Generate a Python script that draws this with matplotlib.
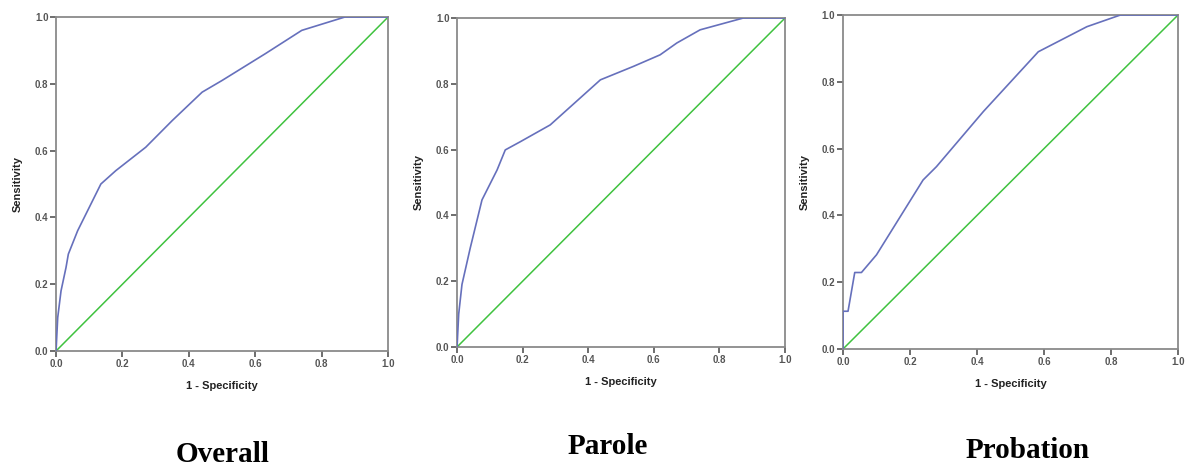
import matplotlib.pyplot as plt

plt.rcParams['font.family'] = ['Liberation Sans', 'DejaVu Sans']

# ROC curve points (1 - specificity, sensitivity) for each group
overall_fpr = [0, 0.005, 0.015, 0.03, 0.037, 0.065, 0.10, 0.135, 0.18, 0.27, 0.35, 0.44, 0.50, 0.63, 0.74, 0.87, 1.0]
overall_tpr = [0, 0.10, 0.18, 0.25, 0.29, 0.36, 0.43, 0.50, 0.54, 0.61, 0.69, 0.775, 0.81, 0.89, 0.96, 1.0, 1.0]

parole_fpr = [0, 0.005, 0.015, 0.04, 0.076, 0.122, 0.147, 0.193, 0.284, 0.437, 0.538, 0.619, 0.67, 0.741, 0.873, 1.0]
parole_tpr = [0, 0.10, 0.19, 0.30, 0.447, 0.538, 0.599, 0.624, 0.675, 0.812, 0.853, 0.888, 0.924, 0.964, 1.0, 1.0]

probation_fpr = [0, 0, 0.015, 0.035, 0.055, 0.10, 0.239, 0.279, 0.419, 0.583, 0.728, 0.828, 1.0]
probation_tpr = [0, 0.113, 0.113, 0.229, 0.229, 0.282, 0.506, 0.546, 0.711, 0.89, 0.965, 1.0, 1.0]

titles = ['Overall', 'Parole', 'Probation']
ref_line = [0, 1]
ticks = [0.0, 0.2, 0.4, 0.6, 0.8, 1.0]

curves = [(overall_fpr, overall_tpr), (parole_fpr, parole_tpr), (probation_fpr, probation_tpr)]

# axes boxes in figure fractions
boxes = [
    [0.0473, 0.2468, 0.2802, 0.7167],
    [0.3857, 0.2554, 0.2768, 0.7060],
    [0.7114, 0.2511, 0.2827, 0.7167],
]
title_pos = [(0.188, 0.008), (0.513, 0.026), (0.867, 0.017)]

fig = plt.figure(figsize=(11.85, 4.66), dpi=100)

for (fpr, tpr), box, title, tp in zip(curves, boxes, titles, title_pos):
    ax = fig.add_axes(box)
    ax.plot(ref_line, ref_line, color='#3fc23f', linewidth=1.1, zorder=2)
    ax.plot(fpr, tpr, color='#6670bc', linewidth=1.2, zorder=3)
    ax.set_xlim(0, 1)
    ax.set_ylim(0, 1)
    ax.set_xticks(ticks)
    ax.set_yticks(ticks)
    ax.set_xticklabels(['%.1f' % t for t in ticks])
    ax.set_yticklabels(['%.1f' % t for t in ticks])
    for s in ax.spines.values():
        s.set_color('#8a8a8a')
        s.set_linewidth(1.3)
    ax.tick_params(direction='out', length=4, width=1.2, color='#555555',
                   labelsize=7, labelcolor='#555555', pad=1.5)
    for lbl in ax.get_xticklabels() + ax.get_yticklabels():
        lbl.set_fontweight('bold')
    ax.set_xlabel('1 - Specificity', fontsize=8, fontweight='bold', color='#222222', labelpad=9)
    ax.set_ylabel('Sensitivity', fontsize=8, fontweight='bold', color='#222222', labelpad=9)
    fig.text(tp[0], tp[1], title, ha='center', va='baseline',
             family='Liberation Serif', fontweight='bold', fontsize=21)

fig.savefig('out.png', dpi=100)
